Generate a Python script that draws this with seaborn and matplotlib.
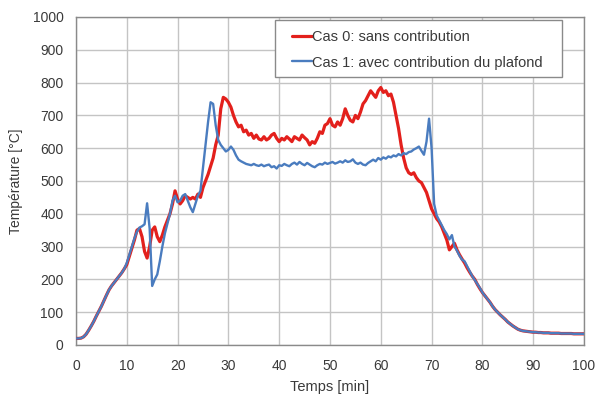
import numpy as np
import pandas as pd
import matplotlib
matplotlib.use("Agg")
import matplotlib.pyplot as plt
from matplotlib.patches import Rectangle
import seaborn as sns

# Time axis, sampled every half minute
temps_min = np.arange(0, 100.5, 0.5)

# Cas 0: sans contribution
cas0 = [
    20, 20, 21, 25, 33, 45, 58, 72, 88, 103,
    118, 135, 152, 168, 180, 190, 200, 210, 220, 232,
    245, 270, 295, 320, 350, 355, 330, 285, 265, 300,
    350, 360, 330, 315, 335, 360, 380, 400, 430, 470,
    445, 430, 440, 455, 450, 445, 450, 445, 460, 450,
    480, 500, 520, 545, 570, 610, 640, 720, 755, 750,
    740, 725, 700, 680, 665, 670, 650, 655, 640, 645,
    630, 640, 628, 625, 635, 625, 630, 640, 645, 630,
    620, 630, 625, 635, 628, 620, 635, 630, 625, 640,
    632, 625, 610, 620, 615, 630, 650, 645, 670, 675,
    690, 670, 665, 680, 670, 690, 720, 700, 685, 680,
    700, 690, 710, 735, 745, 760, 775, 765, 755, 775,
    785, 770, 775, 760, 765, 740, 700, 660, 610, 570,
    540, 525, 520, 525, 510, 500, 495, 480, 465, 440,
    415, 400, 385, 375, 360, 340, 320, 290, 300, 310,
    290, 275, 262, 250, 235, 222, 210, 200, 185, 172,
    160, 150, 140, 130, 118, 108, 100, 92, 85, 78,
    70, 64, 58, 53, 48, 45, 43, 42, 41, 40,
    39, 39, 38, 38, 37, 37, 37, 36, 36, 36,
    36, 35, 35, 35, 35, 35, 34, 34, 34, 34,
    34,
]

# Cas 1: avec contribution du plafond
cas1 = [
    20, 20, 21, 25, 33, 45, 58, 72, 88, 103,
    118, 135, 152, 168, 180, 190, 200, 210, 220, 232,
    250, 275, 300, 325, 345, 358, 362, 368, 432, 355,
    180, 200, 215, 255, 300, 340, 370, 400, 440, 455,
    435, 440, 455, 460, 440, 420, 405, 430, 455, 470,
    540, 610, 680, 740, 735, 670, 625, 610, 600, 590,
    595, 605, 595, 578, 565, 560, 556, 552, 550, 548,
    552, 548, 546, 550, 545, 548, 550, 542, 545, 538,
    548, 546, 552, 548, 545, 552, 556, 550, 558, 552,
    548, 555, 550, 545, 542, 548, 552, 550, 556, 552,
    555, 558, 553, 556, 560, 556, 563, 558, 560, 566,
    556, 552, 556, 550, 548, 555, 560, 565, 560, 570,
    565, 572, 568, 575, 572, 578, 575, 582, 578, 585,
    582, 588, 590, 596, 600, 605, 592, 580, 620, 690,
    600, 430, 395, 380, 365, 350, 338, 322, 335, 300,
    288, 272, 260, 255, 240, 225, 210, 198, 186, 174,
    160, 150, 140, 130, 118, 108, 100, 92, 85, 78,
    70, 64, 58, 53, 48, 45, 43, 42, 41, 40,
    39, 39, 38, 38, 37, 37, 37, 36, 36, 36,
    36, 35, 35, 35, 35, 35, 34, 34, 34, 34,
    34,
]

labels = ["Cas 0: sans contribution", "Cas 1: avec contribution du plafond"]
x_ticks = [0, 10, 20, 30, 40, 50, 60, 70, 80, 90, 100]
y_ticks = [0, 100, 200, 300, 400, 500, 600, 700, 800, 900, 1000]

sns.set_theme(style="whitegrid")
plt.rcParams["font.family"] = ["Liberation Sans", "DejaVu Sans"]

text_col = "#3a3a3a"
edge_col = "#8a8a8a"

fig = plt.figure(figsize=(5.95, 3.94), dpi=100)
ax = fig.add_axes([0.1277, 0.1244, 0.8538, 0.8325])

df = pd.DataFrame({"t": temps_min, "c0": cas0, "c1": cas1})
sns.lineplot(data=df, x="t", y="c0", ax=ax, color="#e3201c", lw=2.3,
             label=labels[0], zorder=3)
sns.lineplot(data=df, x="t", y="c1", ax=ax, color="#4a7cbf", lw=1.7,
             label=labels[1], zorder=4)

ax.set_xlim(0, 100)
ax.set_ylim(0, 1000)
ax.set_xticks(x_ticks)
ax.set_yticks(y_ticks)
ax.grid(True, color="#c4c4c4", lw=1.0)
for s in ax.spines.values():
    s.set_color(edge_col)
    s.set_linewidth(1.0)
ax.tick_params(axis="both", length=0, labelsize=10, colors=text_col)
ax.tick_params(axis="x", pad=10)
ax.tick_params(axis="y", pad=9)
ax.set_xlabel("Temps [min]", fontsize=10.5, color=text_col, labelpad=5)
ax.set_ylabel("Température [°C]", fontsize=10, color=text_col, labelpad=7)

# Legend box drawn as a plain rectangle, entries placed inside it
ax.add_patch(Rectangle((0.3917, 0.817), 0.565, 0.174, transform=ax.transAxes,
                       facecolor="white", edgecolor=edge_col, lw=1.0,
                       zorder=6, clip_on=False))
leg = ax.legend(loc="upper left", bbox_to_anchor=(0.425, 0.959),
                fontsize=10.5, handlelength=1.35, handletextpad=0.05,
                labelspacing=0.76, borderpad=0.0, borderaxespad=0,
                frameon=False)
leg.set_zorder(7)
for txt in leg.get_texts():
    txt.set_color(text_col)

fig.savefig("out.png", dpi=100)
